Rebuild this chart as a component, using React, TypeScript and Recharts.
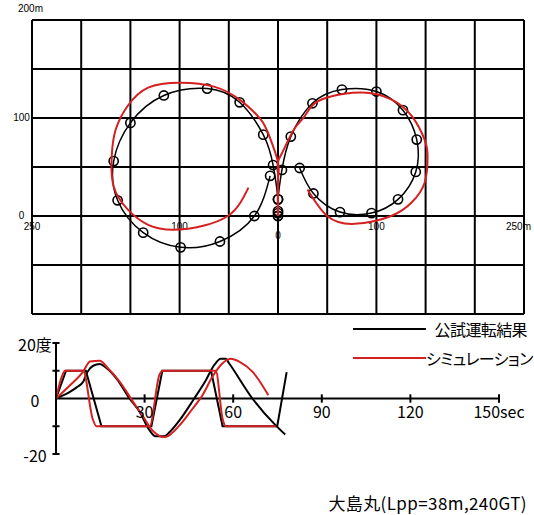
import React from "react";
import {
  ScatterChart,
  Scatter,
  LineChart,
  Line,
  XAxis,
  YAxis,
  ReferenceLine,
  ReferenceDot,
  Legend,
} from "recharts";

const BLACK = "#000000";
const RED = "#d42020";
const LATIN = "'Liberation Sans', Arial, sans-serif";
const JP = "'Noto Sans CJK JP', 'Noto Sans', sans-serif";

// ---------- turning trajectories (metres, x east / y north) ----------

const TRIAL_PORT = [
  { x: 0, y: 0 },
  { x: 0, y: 5 },
  { x: 0, y: 17 },
  { x: -5, y: 52 },
  { x: -15, y: 83 },
  { x: -39, y: 116 },
  { x: -72, y: 130 },
  { x: -116, y: 123 },
  { x: -150, y: 95 },
  { x: -167, y: 56 },
  { x: -163, y: 16 },
  { x: -137, y: -17 },
  { x: -99, y: -32 },
  { x: -59, y: -26 },
  { x: -24, y: 0 },
  { x: -8, y: 41 },
];

const TRIAL_STBD = [
  { x: 0, y: 0 },
  { x: 0, y: 3 },
  { x: 0, y: 17 },
  { x: 4, y: 47 },
  { x: 13, y: 81 },
  { x: 35, y: 115 },
  { x: 65, y: 129 },
  { x: 100, y: 127 },
  { x: 127, y: 108 },
  { x: 141, y: 78 },
  { x: 140, y: 45 },
  { x: 122, y: 17 },
  { x: 95, y: 3 },
  { x: 63, y: 4 },
  { x: 36, y: 23 },
  { x: 22, y: 49 },
];

const SIM_PORT = [
  { x: 0, y: 0 },
  { x: 0, y: 37 },
  { x: 0, y: 55 },
  { x: -9, y: 82 },
  { x: -18, y: 99 },
  { x: -38, y: 118 },
  { x: -65, y: 132 },
  { x: -99, y: 136 },
  { x: -132, y: 131 },
  { x: -153, y: 112 },
  { x: -165, y: 88 },
  { x: -169, y: 61 },
  { x: -167, y: 30 },
  { x: -153, y: 7 },
  { x: -132, y: -9 },
  { x: -106, y: -14 },
  { x: -76, y: -10 },
  { x: -51, y: 0 },
  { x: -38, y: 14 },
  { x: -30, y: 29 },
];

const SIM_STBD = [
  { x: 0, y: 0 },
  { x: 0, y: 37 },
  { x: 0, y: 55 },
  { x: 4, y: 64 },
  { x: 16, y: 88 },
  { x: 25, y: 99 },
  { x: 34, y: 112 },
  { x: 50, y: 121 },
  { x: 85, y: 126 },
  { x: 115, y: 119 },
  { x: 136, y: 102 },
  { x: 149, y: 78 },
  { x: 152, y: 61 },
  { x: 149, y: 34 },
  { x: 136, y: 14 },
  { x: 115, y: 0 },
  { x: 78, y: -8 },
  { x: 50, y: 0 },
  { x: 30, y: 27 },
];

const GRID_X = [-250, -200, -150, -100, -50, 0, 50, 100, 150, 200, 250];
const GRID_Y = [-100, -50, 0, 50, 100, 150, 200];
const TRAJ_X_LABELS = [-250, -100, 0, 100, 250];
const TRAJ_Y_LABELS = [200, 100, 0];

// ---------- zig-zag time history (sec, deg) ----------

const TRIAL_RUDDER = [
  { t: 0, deg: 0 },
  { t: 3.4, deg: 10 },
  { t: 10.1, deg: 10 },
  { t: 15.4, deg: -10 },
  { t: 32.3, deg: -10 },
  { t: 36, deg: 10 },
  { t: 52.5, deg: 10 },
  { t: 56.4, deg: -10 },
  { t: 74.9, deg: -10 },
  { t: 78.1, deg: 9.5 },
];

const TRIAL_HEADING = [
  { t: 0, deg: 0 },
  { t: 4.7, deg: 2.4 },
  { t: 7, deg: 4 },
  { t: 9.2, deg: 6 },
  { t: 10.6, deg: 9.5 },
  { t: 12.6, deg: 11.8 },
  { t: 14.8, deg: 12.4 },
  { t: 16.5, deg: 11.5 },
  { t: 20.5, deg: 7.2 },
  { t: 24.9, deg: 0 },
  { t: 28.3, deg: -4.8 },
  { t: 31.7, deg: -11.5 },
  { t: 33.7, deg: -13.6 },
  { t: 36.7, deg: -13.6 },
  { t: 38.4, deg: -12.2 },
  { t: 41.8, deg: -7.9 },
  { t: 46.8, deg: 0 },
  { t: 50.8, deg: 6.7 },
  { t: 53.6, deg: 12.1 },
  { t: 55.8, deg: 14.3 },
  { t: 57.5, deg: 14.3 },
  { t: 58.6, deg: 12.7 },
  { t: 66.5, deg: 0 },
  { t: 74.4, deg: -9.7 },
  { t: 77.6, deg: -13 },
];

const SIM_RUDDER = [
  { t: 0, deg: 0 },
  { t: 2, deg: 8 },
  { t: 3.1, deg: 10 },
  { t: 9.2, deg: 10 },
  { t: 12.4, deg: -7.3 },
  { t: 13.7, deg: -10 },
  { t: 31.7, deg: -10 },
  { t: 35, deg: 8.5 },
  { t: 36.2, deg: 10 },
  { t: 54.1, deg: 10 },
  { t: 56.4, deg: -7.3 },
  { t: 57.5, deg: -10 },
  { t: 74.4, deg: -10 },
];

const SIM_HEADING = [
  { t: 0, deg: 0 },
  { t: 4.5, deg: 4.5 },
  { t: 9.2, deg: 9.7 },
  { t: 11.5, deg: 13.3 },
  { t: 14.8, deg: 13.6 },
  { t: 17.6, deg: 10.9 },
  { t: 21.6, deg: 6 },
  { t: 26.1, deg: -1.2 },
  { t: 30, deg: -7.3 },
  { t: 31.7, deg: -10.3 },
  { t: 33.9, deg: -12.7 },
  { t: 36.2, deg: -13.9 },
  { t: 37.3, deg: -13.8 },
  { t: 41.8, deg: -9.7 },
  { t: 46.3, deg: -3.6 },
  { t: 49.6, deg: 1.2 },
  { t: 53, deg: 7.9 },
  { t: 56.4, deg: 12.7 },
  { t: 59.2, deg: 14.3 },
  { t: 62, deg: 13.3 },
  { t: 66.5, deg: 9.7 },
  { t: 71.9, deg: 1.2 },
];

const DEG_TICKS = [-20, -10, 0, 10, 20];
const SEC_TICKS = [30, 60, 90, 120, 150];

const LEGEND_ITEMS = [
  { name: "公試運転結果", color: BLACK },
  { name: "シミュレーション", color: RED },
];

// ---------- small render helpers ----------

function Tag(props: any) {
  const { viewBox, text, dx = 0, dy = 0, size = 10, family = LATIN, anchor = "middle" } = props;
  if (!viewBox) return null;
  return (
    <text
      x={viewBox.x + dx}
      y={viewBox.y + dy}
      textAnchor={anchor}
      dominantBaseline="central"
      fontSize={size}
      fontFamily={family}
      fill={BLACK}
    >
      {text}
    </text>
  );
}

function OpenCircle(props: any) {
  const { cx, cy } = props;
  if (cx == null || cy == null) return null;
  return <circle cx={cx} cy={cy} r={4.6} fill="none" stroke={BLACK} strokeWidth={1.6} />;
}

const NoMark = () => <g />;

function degLabel(v: number): string {
  if (v === 20) return "20度";
  if (v === 0) return "0";
  if (v === -20) return "-20";
  return "";
}

function DegTick(props: any) {
  const { x, y, payload } = props;
  return (
    <text x={x - 21} y={y + 1} textAnchor="middle" dominantBaseline="central" fontSize={16} fontFamily={JP} fill={BLACK}>
      {degLabel(payload.value)}
    </text>
  );
}

function LegendBox() {
  return (
    <div style={{ fontFamily: JP, fontSize: 16, width: 174 }}>
      {LEGEND_ITEMS.map((e) => (
        <div key={e.name} style={{ display: "flex", alignItems: "center", height: 29 }}>
          <span style={{ width: 73, height: 2, background: e.color, flex: "none" }} />
          <span
            style={{
              flex: 1,
              textAlign: "right",
              whiteSpace: "nowrap",
              letterSpacing: -0.6,
              fontFeatureSettings: '"palt"',
            }}
          >
            {e.name}
          </span>
        </div>
      ))}
    </div>
  );
}

export default function App() {
  return (
    <div style={{ position: "absolute", left: 0, top: 0, width: 534, height: 515, background: "#fff" }}>
      {/* turning test trajectories */}
      <div style={{ position: "absolute", left: 0, top: 0 }}>
        <ScatterChart width={534} height={330} margin={{ top: 20, right: 10, bottom: 16, left: 32 }}>
          <XAxis type="number" dataKey="x" domain={[-250, 250]} hide allowDataOverflow />
          <YAxis type="number" dataKey="y" domain={[-100, 200]} hide allowDataOverflow />
          {TRAJ_X_LABELS.map((v) => (
            <ReferenceDot
              key={"lx" + v}
              x={v}
              y={0}
              r={0}
              stroke="none"
              ifOverflow="visible"
              label={<Tag text={Math.abs(v) + (v === 250 ? "m" : "")} dx={v === 250 ? -5.5 : 0} dy={v === 0 ? 19.5 : 10} />}
            />
          ))}
          {TRAJ_Y_LABELS.map((v) => (
            <ReferenceDot
              key={"ly" + v}
              x={-250}
              y={v}
              r={0}
              stroke="none"
              ifOverflow="visible"
              label={<Tag text={v + (v === 200 ? "m" : "")} dx={v === 200 ? -1.5 : -10.5} dy={v === 200 ? -12 : -0.5} />}
            />
          ))}
          {GRID_X.map((v) => (
            <ReferenceLine key={"gx" + v} x={v} stroke={BLACK} strokeWidth={2} />
          ))}
          {GRID_Y.map((v) => (
            <ReferenceLine key={"gy" + v} y={v} stroke={BLACK} strokeWidth={2} />
          ))}
          <Scatter data={TRIAL_PORT} line={{ stroke: BLACK, strokeWidth: 1.5 }} lineJointType="natural" shape={OpenCircle} isAnimationActive={false} />
          <Scatter data={TRIAL_STBD} line={{ stroke: BLACK, strokeWidth: 1.5 }} lineJointType="natural" shape={OpenCircle} isAnimationActive={false} />
          <Scatter data={SIM_PORT} line={{ stroke: RED, strokeWidth: 2 }} lineJointType="natural" shape={NoMark} isAnimationActive={false} />
          <Scatter data={SIM_STBD} line={{ stroke: RED, strokeWidth: 2 }} lineJointType="natural" shape={NoMark} isAnimationActive={false} />
        </ScatterChart>
      </div>

      {/* zig-zag rudder / heading history */}
      <div style={{ position: "absolute", left: 0, top: 310 }}>
        <LineChart width={534} height={160} margin={{ top: 33, right: 35, bottom: 16, left: 0 }}>
          <XAxis type="number" dataKey="t" domain={[0, 150]} hide allowDataOverflow />
          <YAxis
            type="number"
            domain={[-20, 20]}
            ticks={DEG_TICKS}
            width={56}
            axisLine={{ stroke: BLACK, strokeWidth: 2 }}
            tickLine={false}
            tickSize={0}
            tickMargin={0}
            tick={<DegTick />}
          />
          <ReferenceLine y={0} stroke={BLACK} strokeWidth={2} />
          {DEG_TICKS.filter((v) => v !== 0).map((v) => (
            <ReferenceLine
              key={"dt" + v}
              segment={[{ x: -1.2, y: v }, { x: 1.2, y: v }]}
              stroke={BLACK}
              strokeWidth={2}
              ifOverflow="visible"
            />
          ))}
          {SEC_TICKS.map((v) => (
            <ReferenceLine
              key={"st" + v}
              segment={[{ x: v, y: -1.5 }, { x: v, y: 1.5 }]}
              stroke={BLACK}
              strokeWidth={2}
              ifOverflow="visible"
            />
          ))}
          {SEC_TICKS.map((v) => (
            <ReferenceDot
              key={"sl" + v}
              x={v}
              y={0}
              r={0}
              stroke="none"
              ifOverflow="visible"
              label={<Tag text={v + (v === 150 ? "sec" : "")} dy={12} size={16} family={JP} />}
            />
          ))}
          <Legend
            layout="horizontal"
            verticalAlign="middle"
            align="center"
            content={<LegendBox />}
            wrapperStyle={{ left: 353, top: 4.5, width: 174 }}
          />
          <Line data={TRIAL_RUDDER} dataKey="deg" name="公試運転結果" type="linear" stroke={BLACK} strokeWidth={2} dot={false} isAnimationActive={false} />
          <Line data={TRIAL_HEADING} dataKey="deg" legendType="none" type="monotone" stroke={BLACK} strokeWidth={2} dot={false} isAnimationActive={false} />
          <Line data={SIM_RUDDER} dataKey="deg" name="シミュレーション" type="monotone" stroke={RED} strokeWidth={2} dot={false} isAnimationActive={false} />
          <Line data={SIM_HEADING} dataKey="deg" legendType="none" type="monotone" stroke={RED} strokeWidth={2} dot={false} isAnimationActive={false} />
        </LineChart>
      </div>

      <div
        style={{
          position: "absolute",
          top: 491,
          left: 290,
          width: 237,
          textAlign: "right",
          fontFamily: JP,
          fontSize: 17,
          letterSpacing: 0.4,
          lineHeight: "24px",
          whiteSpace: "nowrap",
        }}
      >
        大島丸(Lpp=38m,240GT)
      </div>
    </div>
  );
}
